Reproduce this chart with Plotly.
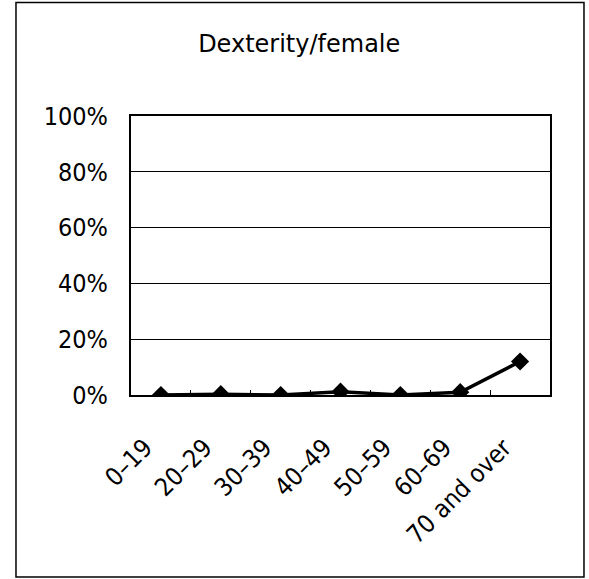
import plotly.graph_objects as go

age_groups = ['0\u201319', '20\u201329', '30\u201339', '40\u201349', '50\u201359', '60\u201369', '70 and over']
pct_values = [0.0, 0.3, 0.0, 1.2, 0.0, 1.0, 12.0]
y_ticks = [0, 20, 40, 60, 80, 100]
y_labels = ['0%', '20%', '40%', '60%', '80%', '100%']

fig = go.Figure(go.Scatter(x=age_groups, y=pct_values, mode='lines+markers',
                           line=dict(color='black', width=3.5),
                           marker=dict(symbol='diamond', size=14, color='black')))

tick_font = dict(family='Liberation Sans Narrow, DejaVu Sans Condensed, Arial Narrow, sans-serif',
                 size=25, color='black')

fig.update_layout(
    width=589, height=579,
    margin=dict(l=131, r=39, t=116, b=184),
    paper_bgcolor='white', plot_bgcolor='white',
    showlegend=False,
    title=dict(text='Dexterity/female', xref='container', x=0.508, xanchor='center',
               yref='container', y=0.924, yanchor='middle',
               font=dict(family='DejaVu Sans', size=24, color='black')),
)
fig.update_xaxes(type='category', range=[-0.5, 6.5], showgrid=False,
                 showline=True, linecolor='black', linewidth=2, mirror=True,
                 ticks='inside', tickson='boundaries', ticklen=5, tickcolor='black',
                 tickangle=-45, tickfont=tick_font, ticklabelstandoff=26, ticklabelshift=-16)
fig.update_yaxes(range=[0, 100], tickvals=y_ticks, ticktext=y_labels,
                 showgrid=True, gridcolor='black', gridwidth=1,
                 showline=True, linecolor='black', linewidth=2, mirror=True,
                 ticks='', ticklabelstandoff=16, tickfont=tick_font, zeroline=False)

# outer chart border
fig.add_shape(type='rect', xref='paper', yref='paper',
              x0=-0.2745, x1=1.0811, y0=-0.6523, y1=1.4068,
              line=dict(color='black', width=1.5))

fig.write_html("out.html", config={'displayModeBar': False},
               post_script="document.body.style.margin='0px';")
